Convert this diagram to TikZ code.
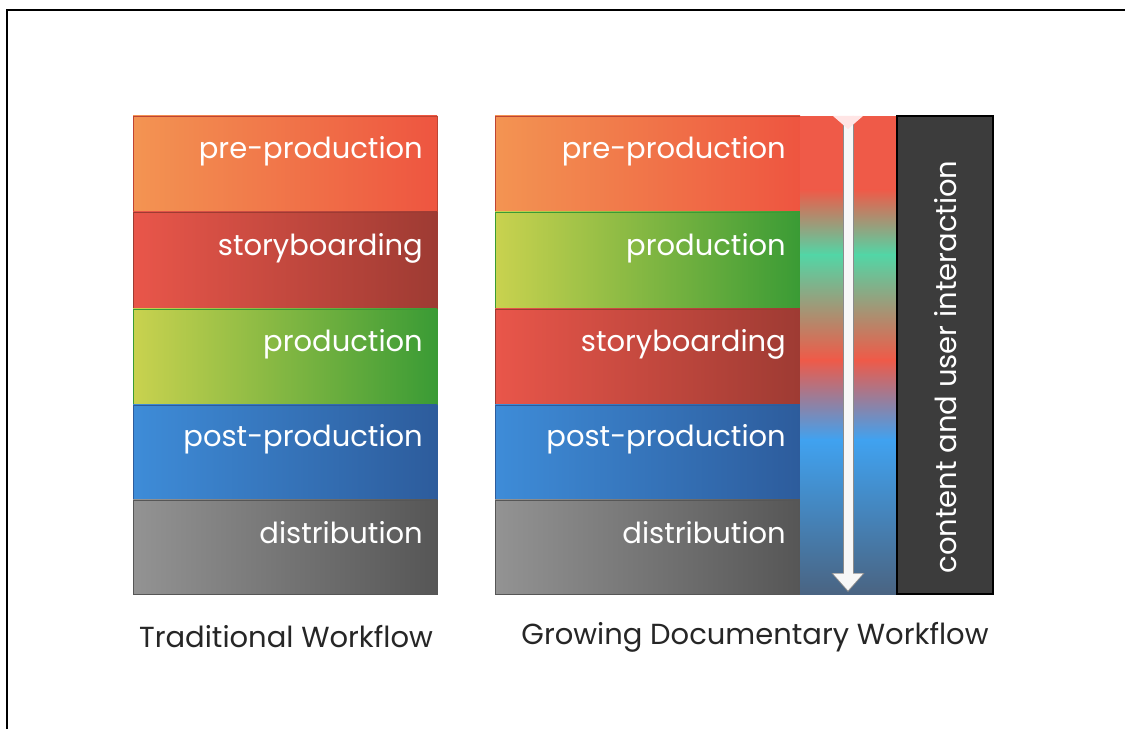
\documentclass[tikz,border=0pt]{standalone}
\usepackage{fontspec}
\setmainfont{Poppins}
\usetikzlibrary{arrows.meta}
\definecolor{preA}{HTML}{F39452}
\definecolor{preB}{HTML}{EE5540}
\definecolor{stoA}{HTML}{E9564A}
\definecolor{stoB}{HTML}{9E3B33}
\definecolor{proA}{HTML}{C9D24F}
\definecolor{proB}{HTML}{3A9B35}
\definecolor{posA}{HTML}{3E8CD8}
\definecolor{posB}{HTML}{2D5C9C}
\definecolor{disA}{HTML}{939393}
\definecolor{disB}{HTML}{565656}
\definecolor{barRed}{HTML}{EF5A48}
\definecolor{barTeal}{HTML}{52D6A6}
\definecolor{barBlue}{HTML}{40A2F0}
\definecolor{barSlate}{HTML}{4A6482}
\definecolor{darkbox}{HTML}{3C3C3C}
\tikzset{
  stage/.style={font=\fontsize{29}{29}\selectfont, text=white, anchor=east, inner sep=0pt},
  caption/.style={font=\fontsize{29}{29}\selectfont, text=black!85},
}
\begin{document}
\begin{tikzpicture}[x=1pt,y=1pt]
        \useasboundingbox (0,0) rectangle (1125,729);
        \fill[white] (0,0) rectangle (1125,729);
        \draw[line width=1.2pt] (7,0) -- (7,719) -- (1125,719);
        % traditional workflow
        \shade[left color=preA, right color=preB, draw=preB!80!black] (133,517) rectangle (437,613);
        \shade[left color=stoA, right color=stoB, draw=stoB] (133,420) rectangle (437,517);
        \shade[left color=proA, right color=proB, draw=proB] (133,324) rectangle (437,420);
        \shade[left color=posA, right color=posB, draw=posB] (133,229) rectangle (437,324);
        \shade[left color=disA, right color=disB, draw=disB] (133,135) rectangle (437,229);
        \node[stage] (tpre) at (423,578) {pre-production};
        \node[stage] (tsto) at (423,481) {storyboarding};
        \node[stage] (tpro) at (423,385) {production};
        \node[stage] (tpos) at (423,290) {post-production};
        \node[stage] (tdis) at (423,196) {distribution};
        \node[caption] (tcap) at (286,92) {Traditional Workflow};
        % growing documentary workflow
        \shade[left color=preA, right color=preB, draw=preB!80!black] (495,517) rectangle (800,613);
        \shade[left color=proA, right color=proB, draw=proB] (495,420) rectangle (800,517);
        \shade[left color=stoA, right color=stoB, draw=stoB] (495,324) rectangle (800,420);
        \shade[left color=posA, right color=posB, draw=posB] (495,229) rectangle (800,324);
        \shade[left color=disA, right color=disB, draw=disB] (495,135) rectangle (800,229);
        \node[stage] (gpre) at (786,578) {pre-production};
        \node[stage] (gpro) at (786,481) {production};
        \node[stage] (gsto) at (786,385) {storyboarding};
        \node[stage] (gpos) at (786,290) {post-production};
        \node[stage] (gdis) at (786,196) {distribution};
        \node[caption] (gcap) at (755,92) {Growing Documentary Workflow};
        % colour bar
        \fill[barRed] (800,539) rectangle (897,613);
        \shade[top color=barRed, bottom color=barTeal] (800,474) rectangle (897,539.5);
        \shade[top color=barTeal, bottom color=barRed] (800,369) rectangle (897,474.5);
        \shade[top color=barRed, bottom color=barBlue] (800,289) rectangle (897,369.5);
        \shade[top color=barBlue, bottom color=barSlate] (800,135) rectangle (897,289.5);
        \coordinate (atop) at (848,613);
        \coordinate (abot) at (848,137);
        \draw[line width=11pt, black!45, -{Triangle[width=32pt,length=19pt]}] (atop) -- (abot);
        \draw[line width=9pt, white!94!gray, -{Triangle[width=29pt,length=17pt]}] (atop) -- ([yshift=1.5pt]abot);
        \fill[white!90!red] (833,613) -- (863,613) -- (848,600) -- cycle;
        % interaction box
        \filldraw[fill=darkbox, draw=black, line width=1.5pt] (897,135) rectangle (993,613);
        \node[stage, anchor=center, rotate=90] (inter) at (946,362) {content and user interaction};
\end{tikzpicture}
\end{document}
